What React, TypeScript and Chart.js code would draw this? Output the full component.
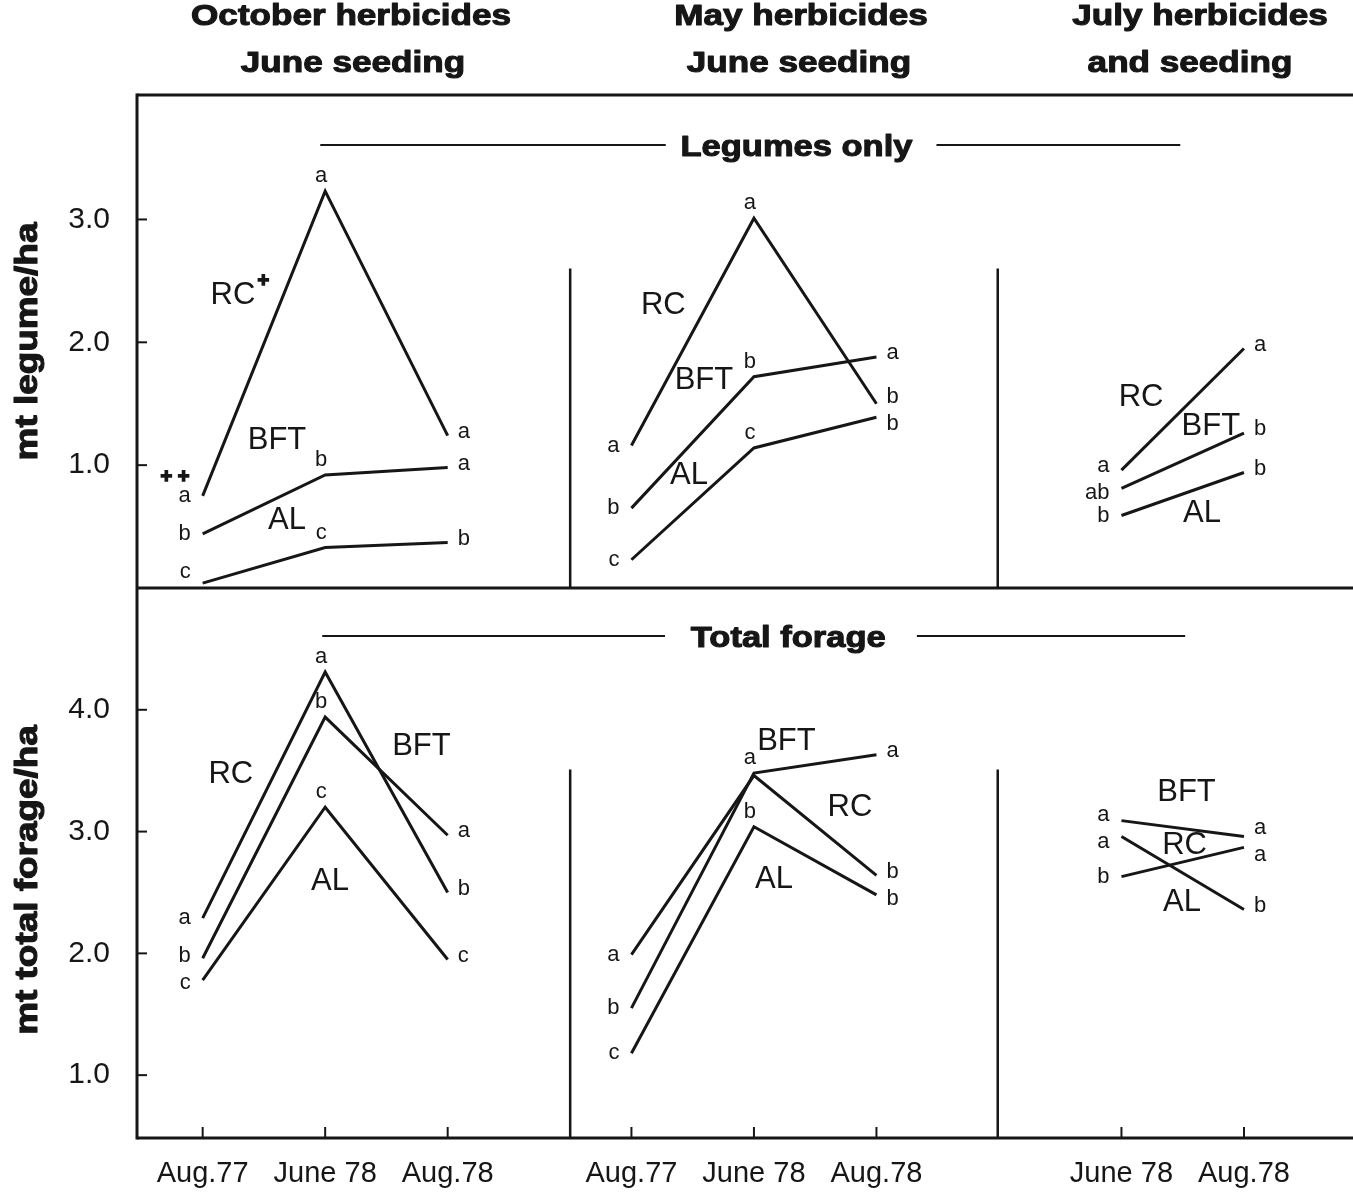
import { useEffect, useRef } from "react";
import { Chart, registerables } from "chart.js";

Chart.register(...registerables);

// ---------------- data ----------------
const SERIES = ["RC", "BFT", "AL"];
const GROUP_X = [[0, 1, 2], [3.5, 4.5, 5.5], [7.5, 8.5]];
const GROUP_DATES = [
  ["Aug.77", "June 78", "Aug.78"],
  ["Aug.77", "June 78", "Aug.78"],
  ["June 78", "Aug.78"],
];
const GROUP_HEADERS = [
  ["October herbicides", "June seeding"],
  ["May herbicides", "June seeding"],
  ["July herbicides", "and seeding"],
];
const PANEL_TITLES = ["Legumes only", "Total forage"];
const Y_TITLES = ["mt legume/ha", "mt total forage/ha"];
const TOP_TICKS = [1, 2, 3];
const BOTTOM_TICKS = [1, 2, 3, 4];

// Legumes only (mt legume/ha), per herbicide group
const LEG_RC = [[0.75, 3.23, 1.24], [1.16, 3.01, 1.5], [0.96, 1.95]];
const LEG_BFT = [[0.44, 0.92, 0.98], [0.65, 1.72, 1.88], [0.81, 1.26]];
const LEG_AL = [[0.04, 0.33, 0.37], [0.23, 1.14, 1.39], [0.59, 0.94]];
const LEG_RC_SIG = [["a", "a", "a"], ["a", "a", "b"], ["a", "a"]];
const LEG_BFT_SIG = [["b", "b", "a"], ["b", "b", "a"], ["ab", "b"]];
const LEG_AL_SIG = [["c", "c", "b"], ["c", "c", "b"], ["b", "b"]];

// Total forage (mt total forage/ha)
const TOT_RC = [[2.29, 4.31, 2.5], [1.99, 3.46, 2.64], [2.96, 2.36]];
const TOT_BFT = [[1.96, 3.94, 2.97], [1.55, 3.48, 3.63], [3.09, 2.96]];
const TOT_AL = [[1.78, 3.2, 1.95], [1.18, 3.04, 2.48], [2.63, 2.87]];
const TOT_RC_SIG = [["a", "a", "b"], ["a", "", "b"], ["a", "b"]];
const TOT_BFT_SIG = [["b", "b", "a"], ["b", "a", "a"], ["a", "a"]];
const TOT_AL_SIG = [["c", "c", "c"], ["c", "b", "b"], ["b", "a"]];

// ---------------- layout / annotation config ----------------
const FONT = '"Liberation Sans", Arial, Helvetica, sans-serif';
const INK = "#161616";

// series name labels, anchored in data units of each panel
const LABEL_SPOTS = [
  { panel: 0, text: "RC", x: 0.247, y: 2.384, sup: "+" },
  { panel: 0, text: "BFT", x: 0.607, y: 1.204 },
  { panel: 0, text: "AL", x: 0.688, y: 0.552 },
  { panel: 0, text: "RC", x: 3.76, y: 2.303 },
  { panel: 0, text: "BFT", x: 4.092, y: 1.692 },
  { panel: 0, text: "AL", x: 3.97, y: 0.919 },
  { panel: 0, text: "RC", x: 7.66, y: 1.554 },
  { panel: 0, text: "BFT", x: 8.23, y: 1.317 },
  { panel: 0, text: "AL", x: 8.158, y: 0.609 },
  { panel: 1, text: "RC", x: 0.23, y: 3.473 },
  { panel: 1, text: "BFT", x: 1.786, y: 3.702 },
  { panel: 1, text: "AL", x: 1.039, y: 2.594 },
  { panel: 1, text: "BFT", x: 4.765, y: 3.744 },
  { panel: 1, text: "RC", x: 5.284, y: 3.202 },
  { panel: 1, text: "AL", x: 4.664, y: 2.611 },
  { panel: 1, text: "BFT", x: 8.031, y: 3.321 },
  { panel: 1, text: "RC", x: 8.015, y: 2.882 },
  { panel: 1, text: "AL", x: 7.994, y: 2.414 },
];

const LEG_VALUES = [LEG_RC, LEG_BFT, LEG_AL];
const LEG_SIGS = [LEG_RC_SIG, LEG_BFT_SIG, LEG_AL_SIG];
const TOT_VALUES = [TOT_RC, TOT_BFT, TOT_AL];
const TOT_SIGS = [TOT_RC_SIG, TOT_BFT_SIG, TOT_AL_SIG];

const X_TICKS: number[] = [];
const X_TICK_LABEL: Record<string, string> = {};
GROUP_X.forEach((xs, g) =>
  xs.forEach((x, i) => {
    X_TICKS.push(x);
    X_TICK_LABEL[String(x)] = GROUP_DATES[g][i];
  })
);

function buildDatasets() {
  const out: any[] = [];
  [LEG_VALUES, TOT_VALUES].forEach((panelVals, p) => {
    const sigs = p === 0 ? LEG_SIGS : TOT_SIGS;
    SERIES.forEach((name, s) => {
      GROUP_X.forEach((xs, g) => {
        out.push({
          label: `${name} ${p}-${g}`,
          data: xs.map((x, i) => ({ x, y: panelVals[s][g][i] })),
          yAxisID: p === 0 ? "yTop" : "yBot",
          borderColor: INK,
          backgroundColor: INK,
          borderWidth: 3,
          pointRadius: 0,
          tension: 0,
          fill: false,
          sig: sigs[s][g],
          panel: p,
        });
      });
    });
  });
  return out;
}

function boldText(ctx: CanvasRenderingContext2D, text: string, cx: number, by: number, size: number, stretch: number, rotate = false) {
  ctx.save();
  ctx.font = `bold ${size}px ${FONT}`;
  ctx.textAlign = "center";
  ctx.textBaseline = "alphabetic";
  ctx.fillStyle = INK;
  ctx.strokeStyle = INK;
  ctx.lineWidth = 1.1;
  ctx.lineJoin = "round";
  ctx.translate(cx, by);
  if (rotate) ctx.rotate(-Math.PI / 2);
  ctx.scale(stretch, 1);
  ctx.fillText(text, 0, 0);
  ctx.strokeText(text, 0, 0);
  ctx.restore();
}

function line(ctx: CanvasRenderingContext2D, x1: number, y1: number, x2: number, y2: number, w: number) {
  ctx.save();
  ctx.strokeStyle = INK;
  ctx.lineWidth = w;
  ctx.beginPath();
  ctx.moveTo(x1, y1);
  ctx.lineTo(x2, y2);
  ctx.stroke();
  ctx.restore();
}

const decorPlugin = {
  id: "figureDecor",
  afterDraw(chart: any) {
    const ctx: CanvasRenderingContext2D = chart.ctx;
    const xs = chart.scales.x;
    const yT = chart.scales.yTop;
    const yB = chart.scales.yBot;
    const { left, right, top, bottom } = chart.chartArea;
    const mid = yT.bottom;

    // frame
    line(ctx, left, top - 1.5, left, bottom + 1.5, 3);
    line(ctx, left, top, right, top, 3);
    line(ctx, left, mid, right, mid, 3);
    line(ctx, left, bottom, right, bottom, 3);

    // tick marks (inside)
    TOP_TICKS.forEach((v) => line(ctx, left, yT.getPixelForValue(v), left + 10, yT.getPixelForValue(v), 2));
    BOTTOM_TICKS.forEach((v) => line(ctx, left, yB.getPixelForValue(v), left + 10, yB.getPixelForValue(v), 2));
    X_TICKS.forEach((v) => line(ctx, xs.getPixelForValue(v), bottom, xs.getPixelForValue(v), bottom - 11, 2));

    // group separators
    [3.0, 6.49].forEach((v) => {
      const px = xs.getPixelForValue(v);
      line(ctx, px, yT.getPixelForValue(2.6), px, mid, 2.5);
      line(ctx, px, yB.getPixelForValue(3.51), px, bottom, 2.5);
    });

    // group headers
    const headerCenters = [[351, 353], [801, 799], [1200, 1190]];
    GROUP_HEADERS.forEach((h, g) => {
      boldText(ctx, h[0], headerCenters[g][0], 25, 30, 1.17);
      boldText(ctx, h[1], headerCenters[g][1], 72, 30, 1.17);
    });

    // panel titles with rules
    const t0y = yT.getPixelForValue(3.606);
    boldText(ctx, PANEL_TITLES[0], xs.getPixelForValue(4.847), t0y + 11, 30, 1.15);
    line(ctx, xs.getPixelForValue(0.96), t0y, xs.getPixelForValue(3.78), t0y, 2);
    line(ctx, xs.getPixelForValue(5.99), t0y, xs.getPixelForValue(7.98), t0y, 2);
    const t1y = yB.getPixelForValue(4.606);
    boldText(ctx, PANEL_TITLES[1], xs.getPixelForValue(4.78), t1y + 11, 30, 1.15);
    line(ctx, xs.getPixelForValue(0.976), t1y, xs.getPixelForValue(3.774), t1y, 2);
    line(ctx, xs.getPixelForValue(5.83), t1y, xs.getPixelForValue(8.02), t1y, 2);

    // y titles
    boldText(ctx, Y_TITLES[0], 37, (yT.top + yT.bottom) / 2, 31, 1.19, true);
    boldText(ctx, Y_TITLES[1], 37, (yB.top + yB.bottom) / 2 + 17, 31, 1.19, true);

    // series labels
    ctx.save();
    ctx.fillStyle = INK;
    ctx.font = `31px ${FONT}`;
    ctx.textAlign = "center";
    ctx.textBaseline = "middle";
    LABEL_SPOTS.forEach((s) => {
      const ys = s.panel === 0 ? yT : yB;
      const px = xs.getPixelForValue(s.x);
      const py = ys.getPixelForValue(s.y);
      ctx.fillText(s.text, px, py);
      if (s.sup) {
        const w = ctx.measureText(s.text).width;
        ctx.save();
        ctx.font = `bold 20px ${FONT}`;
        ctx.lineWidth = 1.5;
        ctx.strokeStyle = INK;
        ctx.fillText(s.sup, px + w / 2 + 8, py - 14);
        ctx.strokeText(s.sup, px + w / 2 + 8, py - 14);
        ctx.restore();
      }
    });
    // footnote marker
    ctx.save();
    ctx.font = `bold 20px ${FONT}`;
    ctx.lineWidth = 1.5;
    ctx.strokeStyle = INK;
    const fx = xs.getPixelForValue(-0.226);
    const fy = yT.getPixelForValue(0.903);
    ctx.fillText("+ +", fx, fy);
    ctx.strokeText("+ +", fx, fy);
    ctx.restore();
    ctx.restore();

    // significance letters
    const pts: { x: number; y: number; panel: number; di: number }[] = [];
    chart.data.datasets.forEach((ds: any, di: number) => {
      chart.getDatasetMeta(di).data.forEach((pt: any) => pts.push({ x: pt.x, y: pt.y, panel: ds.panel, di }));
    });
    const MIN_SEP = 27;
    ctx.save();
    ctx.fillStyle = INK;
    ctx.font = `22px ${FONT}`;
    ctx.textBaseline = "middle";
    chart.data.datasets.forEach((ds: any, di: number) => {
      const meta = chart.getDatasetMeta(di);
      const n = meta.data.length;
      const panelBottom = ds.panel === 0 ? yT.bottom : yB.bottom;
      meta.data.forEach((pt: any, i: number) => {
        const txt = ds.sig[i];
        if (!txt) return;
        // nearest neighbouring point at the same date
        let near: any = null;
        pts.forEach((q) => {
          if (q.di === di || q.panel !== ds.panel || Math.abs(q.x - pt.x) > 1) return;
          if (!near || Math.abs(q.y - pt.y) < Math.abs(near.y - pt.y)) near = q;
        });
        const d = near ? Math.abs(near.y - pt.y) : 999;
        const push = d < MIN_SEP ? ((MIN_SEP - d) / 2) * (near.y > pt.y ? -1 : 1) : null;
        let tx: number, ty: number;
        if (i === 0) {
          ctx.textAlign = "right";
          tx = pt.x - 12;
          ty = pt.y + (push ?? 0);
        } else if (i === n - 1) {
          ctx.textAlign = "left";
          tx = pt.x + 10;
          ty = pt.y + (push ?? -4);
        } else {
          ctx.textAlign = "center";
          tx = pt.x - 4;
          ty = pt.y - 15;
        }
        ty = Math.min(ty, panelBottom - 16);
        ctx.fillText(txt, tx, ty);
      });
    });
    ctx.restore();
  },
};

export default function App() {
  const ref = useRef<HTMLCanvasElement | null>(null);
  useEffect(() => {
    if (!ref.current) return;
    const chart = new Chart(ref.current, {
      type: "line",
      data: { datasets: buildDatasets() },
      options: {
        animation: false,
        responsive: false,
        devicePixelRatio: 1,
        layout: { padding: { top: 95, left: 0, right: 0, bottom: 0 } },
        plugins: { legend: { display: false }, tooltip: { enabled: false } },
        scales: {
          x: {
            type: "linear",
            position: "bottom",
            min: -0.536,
            max: 9.39,
            bounds: "data",
            grid: { display: false, drawTicks: false },
            border: { display: false },
            afterBuildTicks: (s: any) => {
              s.ticks = X_TICKS.map((v) => ({ value: v }));
            },
            afterFit: (s: any) => {
              s.height = 54;
            },
            ticks: {
              autoSkip: false,
              maxRotation: 0,
              padding: 19,
              color: INK,
              font: { family: FONT, size: 29 },
              callback: (v: any) => X_TICK_LABEL[String(v)] ?? "",
            },
          },
          yTop: {
            type: "linear",
            position: "left",
            stack: "panels",
            stackWeight: 493,
            weight: 2,
            min: 0,
            max: 4.013,
            bounds: "data",
            grid: { display: false, drawTicks: false },
            border: { display: false },
            afterBuildTicks: (s: any) => {
              s.ticks = TOP_TICKS.map((v) => ({ value: v }));
            },
            afterFit: (s: any) => {
              s.width = 137;
            },
            ticks: {
              padding: 27,
              color: INK,
              font: { family: FONT, size: 30 },
              callback: (v: any) => Number(v).toFixed(1),
            },
          },
          yBot: {
            type: "linear",
            position: "left",
            stack: "panels",
            stackWeight: 550,
            weight: 1,
            min: 0.484,
            max: 5.0,
            bounds: "data",
            grid: { display: false, drawTicks: false },
            border: { display: false },
            afterBuildTicks: (s: any) => {
              s.ticks = BOTTOM_TICKS.map((v) => ({ value: v }));
            },
            afterFit: (s: any) => {
              s.width = 137;
            },
            ticks: {
              padding: 27,
              color: INK,
              font: { family: FONT, size: 30 },
              callback: (v: any) => Number(v).toFixed(1),
            },
          },
        },
      } as any,
      plugins: [decorPlugin],
    });
    return () => chart.destroy();
  }, []);
  return (
    <div style={{ position: "absolute", left: 0, top: 0, width: 1353, height: 1192, background: "#fff" }}>
      <canvas ref={ref} width={1353} height={1192} style={{ display: "block" }} />
    </div>
  );
}
